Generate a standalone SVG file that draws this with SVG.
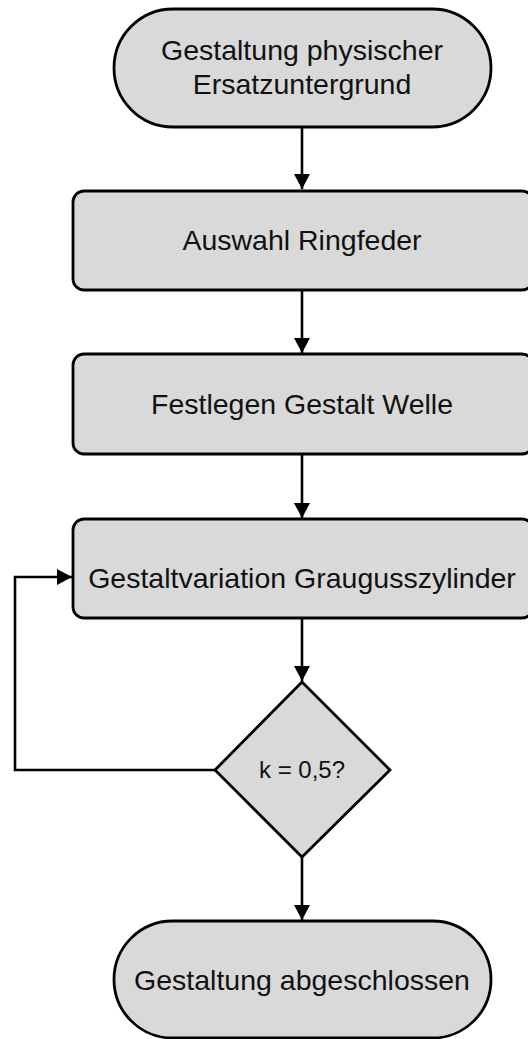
<svg xmlns="http://www.w3.org/2000/svg" width="528" height="1039" viewBox="0 0 528 1039">
  <style>
    .shape { fill: #d9d9d9; stroke: #000; stroke-width: 2.8; }
    .label { font-family: "Liberation Sans", Arial, sans-serif; font-size: 28.5px; fill: #111; text-anchor: middle; }
    .small { font-size: 24px; }
    .edge { fill: none; stroke: #000; stroke-width: 2.6; }
  </style>
  <defs>
    <marker id="arrow" markerUnits="userSpaceOnUse" markerWidth="16" markerHeight="16" viewBox="0 0 16 16" refX="15" refY="8" orient="auto">
      <path d="M0,0 L15,8 L0,16 Z" fill="#000"/>
    </marker>
  </defs>

  <g id="connectors">
    <path class="edge" d="M302,127 V189" marker-end="url(#arrow)"/>
    <path class="edge" d="M302,290 V353" marker-end="url(#arrow)"/>
    <path class="edge" d="M302,454 V518" marker-end="url(#arrow)"/>
    <path class="edge" d="M302,618 V681" marker-end="url(#arrow)"/>
    <path class="edge" d="M302,857 V920" marker-end="url(#arrow)"/>
    <path class="edge" d="M215,770 H15 V577 H72" marker-end="url(#arrow)"/>
  </g>

  <g id="start">
    <rect class="shape" x="114" y="9" width="377" height="118" rx="59" ry="59"/>
    <text class="label" x="302" y="60">Gestaltung physischer</text>
    <text class="label" x="302" y="94">Ersatzuntergrund</text>
  </g>

  <g id="ringfeder">
    <rect class="shape" x="73" y="191" width="460" height="99" rx="11" ry="11"/>
    <text class="label" x="302" y="250">Auswahl Ringfeder</text>
  </g>

  <g id="welle">
    <rect class="shape" x="73" y="354" width="460" height="100" rx="11" ry="11"/>
    <text class="label" x="302" y="414">Festlegen Gestalt Welle</text>
  </g>

  <g id="variation">
    <rect class="shape" x="73" y="519" width="460" height="99" rx="11" ry="11"/>
    <text class="label" x="302" y="588">Gestaltvariation Graugusszylinder</text>
  </g>

  <g id="decision">
    <polygon class="shape" points="302,682 390,770 302,857 215,770"/>
    <text class="label small" x="302" y="778">k = 0,5?</text>
  </g>

  <g id="end">
    <rect class="shape" x="114" y="921" width="377" height="117" rx="58.5" ry="58.5"/>
    <text class="label" x="302" y="990">Gestaltung abgeschlossen</text>
  </g>
</svg>
